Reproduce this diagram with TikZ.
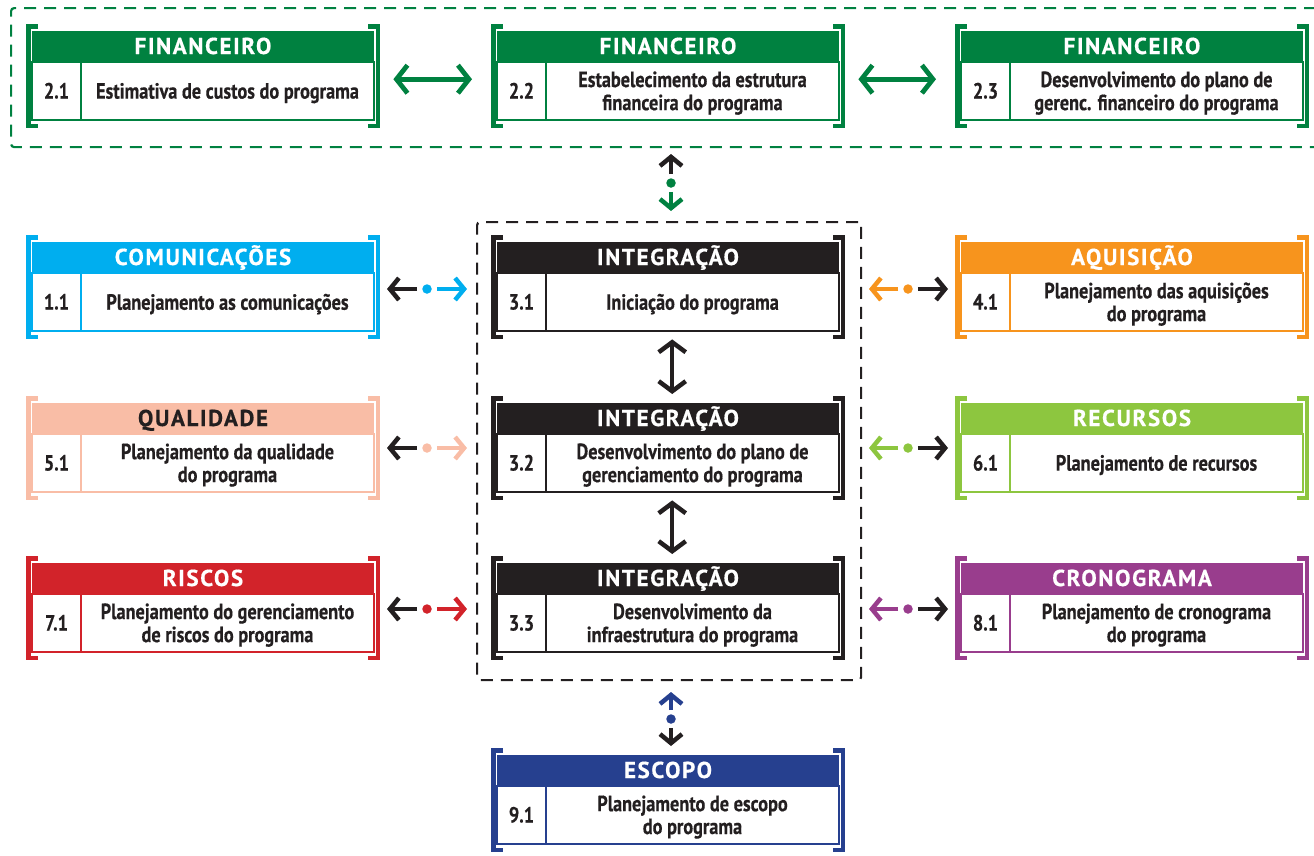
\documentclass[tikz,border=0pt]{standalone}
\usepackage{fontspec}
\setmainfont{PT Sans}
\newfontfamily\bodyf[FakeStretch=0.83,BoldFeatures={FakeBold=0.5}]{PT Sans}
\newfontfamily\titlef[LetterSpace=7,BoldFeatures={FakeBold=0.5}]{PT Sans}
\usetikzlibrary{arrows.meta,calc}
\definecolor{ink}{RGB}{35,31,32}
\definecolor{cfin}{RGB}{0,129,64}
\definecolor{ccom}{RGB}{0,174,239}
\definecolor{caq}{RGB}{247,148,29}
\definecolor{cqual}{RGB}{249,189,166}
\definecolor{crec}{RGB}{141,198,63}
\definecolor{cris}{RGB}{210,35,42}
\definecolor{ccro}{RGB}{153,61,141}
\definecolor{cesc}{RGB}{38,64,143}
\tikzset{
  boxframe/.style={inner sep=0pt, minimum width=354pt, minimum height=104pt},
  bracket/.style={line width=4.5pt, line cap=butt, line join=miter},
  titletext/.style={anchor=base, inner sep=0pt, font=\titlef\bfseries\fontsize{23}{26}\selectfont},
  numtext/.style={anchor=base, inner sep=0pt, text=ink, font=\bodyf\bfseries\fontsize{22}{22}\selectfont},
  bodytext/.style={anchor=center, inner sep=0pt, align=center, text=ink, font=\bodyf\bfseries\fontsize{22}{21.5}\selectfont},
  bigarrow/.style={line width=4.8pt, {Straight Barb[length=11pt,width=28pt]}-{Straight Barb[length=11pt,width=28pt]}},
  sarrow/.style={line width=4.5pt, -{Straight Barb[length=9pt,width=22pt]}},
  vdbl/.style={line width=4.5pt, {Straight Barb[length=10pt,width=27pt]}-{Straight Barb[length=10pt,width=27pt]}},
  dotnode/.style={circle, inner sep=0pt, minimum size=9.5pt},
  grpline/.style={line width=2.2pt, dash pattern=on 12pt off 8pt},
}
\newcommand\pbox[9]{%
  \node[boxframe, anchor=north west] (#1) at (#2,#3) {};
  \fill[#4] ({#2+6},{#3+7}) rectangle ({#2+348},{#3+38});
  \draw[#4, line width=1.3pt] ({#2+6},{#3+38}) rectangle ({#2+348},{#3+96});
  \draw[#4, line width=1.3pt] ({#2+55},{#3+38}) -- ({#2+55},{#3+96});
  \draw[#4, bracket] ({#2+12},{#3+2.25}) -- ({#2+2.25},{#3+2.25}) -- ({#2+2.25},{#3+101.75}) -- ({#2+12},{#3+101.75});
  \draw[#4, bracket] ({#2+342},{#3+2.25}) -- ({#2+351.75},{#3+2.25}) -- ({#2+351.75},{#3+101.75}) -- ({#2+342},{#3+101.75});
  \node[titletext, text=#5] (#1-t) at ({#2+177},{#3+30}) {#6};
  \node[numtext] (#1-n) at ({#2+30.5},{#3+74.5}) {#7};
  \node[bodytext] (#1-b) at ({#2+201.5},{#3+70}) {\strut #8\if\relax\detokenize{#9}\relax\else\\\strut #9\fi};
}
\begin{document}
\begin{tikzpicture}[x=1pt,y=-1pt]
\useasboundingbox (0,0) rectangle (1314,855);
% group frames
\node[draw=cfin, grpline, rounded corners=3pt, inner sep=0pt, minimum width=1308pt, minimum height=139pt, anchor=north west] (fingrp) at (10,7) {};
\node[draw=ink, grpline, rounded corners=3pt, inner sep=0pt, minimum width=384pt, minimum height=458pt, anchor=north west] (intgrp) at (476,221) {};
% boxes
\pbox{f21}{26}{24}{cfin}{white}{FINANCEIRO}{2.1}{Estimativa de custos do programa}{}
\pbox{f22}{491}{24}{cfin}{white}{FINANCEIRO}{2.2}{Estabelecimento da estrutura}{financeira do programa}
\pbox{f23}{955}{24}{cfin}{white}{FINANCEIRO}{2.3}{Desenvolvimento do plano de}{gerenc. financeiro do programa}
\pbox{com}{26}{235}{ccom}{white}{COMUNICAÇÕES}{1.1}{Planejamento as comunicações}{}
\pbox{i31}{491}{235}{ink}{white}{INTEGRAÇÃO}{3.1}{Iniciação do programa}{}
\pbox{aq}{955}{235}{caq}{white}{AQUISIÇÃO}{4.1}{Planejamento das aquisições}{do programa}
\pbox{qual}{26}{396}{cqual}{ink}{QUALIDADE}{5.1}{Planejamento da qualidade}{do programa}
\pbox{i32}{491}{396}{ink}{white}{INTEGRAÇÃO}{3.2}{Desenvolvimento do plano de}{gerenciamento do programa}
\pbox{rec}{955}{396}{crec}{white}{RECURSOS}{6.1}{Planejamento de recursos}{}
\pbox{ris}{26}{556}{cris}{white}{RISCOS}{7.1}{Planejamento do gerenciamento}{de riscos do programa}
\pbox{i33}{491}{556}{ink}{white}{INTEGRAÇÃO}{3.3}{Desenvolvimento da}{infraestrutura do programa}
\pbox{cro}{955}{556}{ccro}{white}{CRONOGRAMA}{8.1}{Planejamento de cronograma}{do programa}
\pbox{esc}{491}{748}{cesc}{white}{ESCOPO}{9.1}{Planejamento de escopo}{do programa}
% financeiro horizontal arrows
\draw[bigarrow, cfin] ($(f21.east)+(13,3)$) -- ($(f22.west)+(-19,3)$);
\draw[bigarrow, cfin] ($(f22.east)+(13,3)$) -- ($(f23.west)+(-19,3)$);
% financeiro <-> integracao
\node[dotnode, fill=cfin] (d0) at (671,183) {};
\coordinate (d0a) at (671,154);
\coordinate (d0b) at (671,211);
\draw[sarrow, ink, shorten <=4pt] (d0) -- (d0a);
\draw[sarrow, cfin, shorten <=4pt] (d0) -- (d0b);
% integracao chain
\draw[vdbl, ink] ($(i31.south)+(4,0)$) -- ($(i32.north)+(4,-2)$);
\draw[vdbl, ink] ($(i32.south)+(4,0)$) -- ($(i33.north)+(4,-2)$);
% escopo
\node[dotnode, fill=cesc] (d9) at (671,719) {};
\coordinate (d9a) at (671,692);
\coordinate (d9b) at (671,746);
\draw[sarrow, cesc, shorten <=4pt] (d9) -- (d9a);
\draw[sarrow, ink, shorten <=4pt] (d9) -- (d9b);
% left side arrows
\foreach \nm/\col/\yy in {com/ccom/289, qual/cqual/448, ris/cris/609}{
  \node[dotnode, fill=\col] (dl-\nm) at (427,\yy) {};
  \coordinate (dl-\nm-a) at (387,\yy);
  \coordinate (dl-\nm-b) at (467,\yy);
  \draw[sarrow, ink, shorten <=5pt] (dl-\nm) -- (dl-\nm-a);
  \draw[sarrow, \col, shorten <=5pt] (dl-\nm) -- (dl-\nm-b);
}
% right side arrows
\foreach \nm/\col/\yy in {aq/caq/289, rec/crec/448, cro/ccro/609}{
  \node[dotnode, fill=\col] (dr-\nm) at (908,\yy) {};
  \coordinate (dr-\nm-a) at (869,\yy);
  \coordinate (dr-\nm-b) at (948,\yy);
  \draw[sarrow, \col, shorten <=5pt] (dr-\nm) -- (dr-\nm-a);
  \draw[sarrow, ink, shorten <=5pt] (dr-\nm) -- (dr-\nm-b);
}
\end{tikzpicture}
\end{document}
